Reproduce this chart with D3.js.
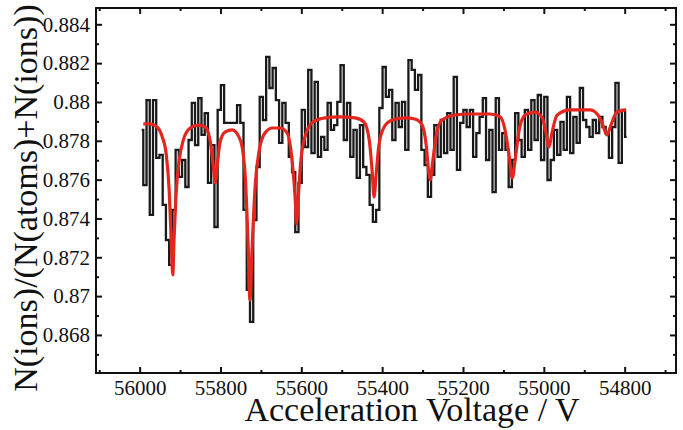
<!DOCTYPE html>
<html>
<head>
<meta charset="utf-8">
<script src="https://cdnjs.cloudflare.com/ajax/libs/d3/7.8.5/d3.min.js"></script>
<style>
body { margin: 0; background: #fff; }
svg text { font-family: "Liberation Serif", "Times New Roman", serif !important; fill: #111; }
.axis path { display: none; }
.axis line { stroke: #111; stroke-width: 2px; }
</style>
</head>
<body>
<div id="chart"></div>
<script>
// measured ratio, one bin every 8 V
var voltage = [
  55995, 55987, 55979, 55971, 55963, 55955, 55947, 55939, 55931, 55923,
  55915, 55907, 55899, 55891, 55883, 55875, 55867, 55859, 55851, 55843,
  55835, 55827, 55819, 55811, 55803, 55795, 55787, 55779, 55771, 55763,
  55755, 55747, 55739, 55731, 55723, 55715, 55707, 55699, 55691, 55683,
  55675, 55667, 55659, 55651, 55643, 55635, 55627, 55619, 55611, 55603,
  55595, 55587, 55579, 55571, 55563, 55555, 55547, 55539, 55531, 55523,
  55515, 55507, 55499, 55491, 55483, 55475, 55467, 55459, 55451, 55443,
  55435, 55427, 55419, 55411, 55403, 55395, 55387, 55379, 55371, 55363,
  55355, 55347, 55339, 55331, 55323, 55315, 55307, 55299, 55291, 55283,
  55275, 55267, 55259, 55251, 55243, 55235, 55227, 55219, 55211, 55203,
  55195, 55187, 55179, 55171, 55163, 55155, 55147, 55139, 55131, 55123,
  55115, 55107, 55099, 55091, 55083, 55075, 55067, 55059, 55051, 55043,
  55035, 55027, 55019, 55011, 55003, 54995, 54987, 54979, 54971, 54963,
  54955, 54947, 54939, 54931, 54923, 54915, 54907, 54899, 54891, 54883,
  54875, 54867, 54859, 54851, 54843, 54835, 54827, 54819, 54811, 54803,
  54795
];
var ratio = [
  0.87856, 0.87572, 0.88010, 0.87418, 0.88010, 0.87712, 0.87727, 0.87470, 0.87289, 0.87161,
  0.87444, 0.87753, 0.87614, 0.87701, 0.87562, 0.87804, 0.87995, 0.87778, 0.88020, 0.87830,
  0.87943, 0.87583, 0.87778, 0.87356, 0.87959, 0.88087, 0.87892, 0.87892, 0.87892, 0.87892,
  0.87984, 0.87892, 0.87444, 0.87032, 0.86867, 0.87392, 0.87665, 0.88026, 0.87907, 0.88232,
  0.88072, 0.88175, 0.88010, 0.87789, 0.87995, 0.87892, 0.87717, 0.87639, 0.87330, 0.87583,
  0.87959, 0.87768, 0.88165, 0.87737, 0.88103, 0.87717, 0.87820, 0.87753, 0.87995, 0.87856,
  0.87881, 0.88000, 0.88190, 0.87804, 0.87995, 0.87717, 0.87856, 0.87609, 0.87881, 0.87665,
  0.87624, 0.87470, 0.87382, 0.87444, 0.87969, 0.88180, 0.88026, 0.88062, 0.87804, 0.87995,
  0.87871, 0.88000, 0.87753, 0.88216, 0.88165, 0.88062, 0.88139, 0.87753, 0.87675, 0.87511,
  0.87624, 0.87881, 0.87717, 0.87907, 0.87737, 0.87943, 0.87753, 0.88129, 0.87650, 0.87892,
  0.87959, 0.87871, 0.87959, 0.87717, 0.87840, 0.87923, 0.88020, 0.87701, 0.87856, 0.87536,
  0.88020, 0.87753, 0.87840, 0.87753, 0.87562, 0.87701, 0.87943, 0.87804, 0.87717, 0.87959,
  0.87753, 0.88010, 0.87804, 0.88036, 0.87701, 0.88026, 0.87598, 0.87701, 0.87856, 0.87727,
  0.87897, 0.87753, 0.88026, 0.87737, 0.87923, 0.87789, 0.88072, 0.87907, 0.87871, 0.87820,
  0.87907, 0.87840, 0.87923, 0.87871, 0.87840, 0.87712, 0.87871, 0.88098, 0.87686, 0.87959,
  0.87820
];

// fitted curve (red)
var fitVoltage = [
  55991, 55974, 55957, 55944, 55934, 55927, 55922, 55918, 55915, 55910,
  55902, 55892, 55875, 55855, 55838, 55826, 55818, 55813, 55808, 55801,
  55789, 55771, 55751, 55739, 55732, 55727, 55722, 55714, 55704, 55690,
  55672, 55652, 55635, 55623, 55615, 55612, 55608, 55601, 55588, 55571,
  55541, 55504, 55467, 55445, 55432, 55425, 55420, 55415, 55408, 55395,
  55375, 55343, 55319, 55301, 55291, 55284, 55281, 55276, 55266, 55252,
  55220, 55183, 55133, 55108, 55096, 55086, 55078, 55071, 55061, 55046,
  55022, 55004, 54995, 54987, 54980, 54967, 54935, 54886, 54866, 54854,
  54844, 54834, 54819, 54797
];
var fitRatio = [
  0.87887, 0.87887, 0.87871, 0.87820, 0.87727, 0.87547, 0.87289, 0.87109, 0.87289, 0.87521,
  0.87701, 0.87804, 0.87866, 0.87881, 0.87871, 0.87804, 0.87675, 0.87583, 0.87675, 0.87794,
  0.87845, 0.87856, 0.87804, 0.87624, 0.87289, 0.86980, 0.87238, 0.87572, 0.87753, 0.87840,
  0.87866, 0.87866, 0.87840, 0.87701, 0.87495, 0.87372, 0.87495, 0.87701, 0.87840, 0.87897,
  0.87918, 0.87923, 0.87918, 0.87897, 0.87804, 0.87650, 0.87511, 0.87624, 0.87778, 0.87871,
  0.87907, 0.87918, 0.87912, 0.87881, 0.87778, 0.87624, 0.87598, 0.87675, 0.87830, 0.87907,
  0.87933, 0.87938, 0.87938, 0.87923, 0.87856, 0.87727, 0.87609, 0.87701, 0.87856, 0.87933,
  0.87948, 0.87918, 0.87845, 0.87768, 0.87840, 0.87933, 0.87959, 0.87959, 0.87933, 0.87881,
  0.87830, 0.87881, 0.87948, 0.87959
];

var xTicks = [56000, 55800, 55600, 55400, 55200, 55000, 54800];
var xMinor = [56100, 55900, 55700, 55500, 55300, 55100, 54900, 54700];
var yTicks = [0.868, 0.870, 0.872, 0.874, 0.876, 0.878, 0.880, 0.882, 0.884];
var yMinor = [0.867, 0.869, 0.871, 0.873, 0.875, 0.877, 0.879, 0.881, 0.883];

var serif = "'Liberation Serif', 'Times New Roman', serif";

var margin = {top: 8, right: 7, bottom: 57, left: 96},
    width = 683 - margin.left - margin.right,
    height = 430 - margin.top - margin.bottom;

var svg = d3.select("#chart").append("svg")
    .attr("width", 683)
    .attr("height", 430)
  .append("g")
    .attr("transform", "translate(" + margin.left + "," + margin.top + ")");

// voltage axis runs backwards
var x = d3.scaleLinear()
  .domain([56108, 54673])
  .range([0, width]);

var y = d3.scaleLinear()
  .domain([0.86604, 0.88484])
  .range([height, 0]);

var fmt = function(d){ return String(+d.toFixed(3)); };

function styleLabels(g){
  g.attr("font-family", serif);
  g.selectAll("text")
    .style("font-family", serif)
    .style("font-size", "21px");
}

// major ticks, all pointing inwards
svg.append("g").attr("class", "axis")
    .attr("transform", "translate(0," + height + ")")
    .call(d3.axisBottom(x).tickValues(xTicks).tickSizeInner(-6).tickSizeOuter(0).tickPadding(7).tickFormat(d3.format("d")))
    .call(styleLabels);

svg.append("g").attr("class", "axis")
    .call(d3.axisTop(x).tickValues(xTicks).tickSizeInner(-6).tickSizeOuter(0).tickFormat(""));

svg.append("g").attr("class", "axis")
    .call(d3.axisLeft(y).tickValues(yTicks).tickSizeInner(-6).tickSizeOuter(0).tickPadding(6).tickFormat(fmt))
    .call(styleLabels);

svg.append("g").attr("class", "axis")
    .attr("transform", "translate(" + width + ",0)")
    .call(d3.axisRight(y).tickValues(yTicks).tickSizeInner(-6).tickSizeOuter(0).tickFormat(""));

// minor ticks
svg.append("g").attr("class", "axis")
    .attr("transform", "translate(0," + height + ")")
    .call(d3.axisBottom(x).tickValues(xMinor).tickSizeInner(-3).tickSizeOuter(0).tickFormat(""));
svg.append("g").attr("class", "axis")
    .call(d3.axisTop(x).tickValues(xMinor).tickSizeInner(-3).tickSizeOuter(0).tickFormat(""));
svg.append("g").attr("class", "axis")
    .call(d3.axisLeft(y).tickValues(yMinor).tickSizeInner(-3).tickSizeOuter(0).tickFormat(""));
svg.append("g").attr("class", "axis")
    .attr("transform", "translate(" + width + ",0)")
    .call(d3.axisRight(y).tickValues(yMinor).tickSizeInner(-3).tickSizeOuter(0).tickFormat(""));

// data as a step line
var stepLine = d3.line()
    .x(function(d){ return x(d[0]); })
    .y(function(d){ return y(d[1]); })
    .curve(d3.curveStep);

svg.append("path")
    .datum(d3.zip(voltage, ratio))
    .attr("fill", "none")
    .attr("stroke", "#1a1a1a")
    .attr("stroke-width", 2.3)
    .attr("d", stepLine);

// fit
var fitLine = d3.line()
    .x(function(d){ return x(d[0]); })
    .y(function(d){ return y(d[1]); })
    .curve(d3.curveMonotoneX);

svg.append("path")
    .datum(d3.zip(fitVoltage, fitRatio))
    .attr("fill", "none")
    .attr("stroke", "#e5261e")
    .attr("stroke-width", 3.2)
    .attr("stroke-linejoin", "round")
    .attr("d", fitLine);

// frame
svg.append("rect")
    .attr("width", width)
    .attr("height", height)
    .attr("fill", "none")
    .attr("stroke", "#111")
    .attr("stroke-width", 2);

// axis titles
svg.append("text")
    .attr("x", 412 - margin.left)
    .attr("y", 421 - margin.top)
    .attr("text-anchor", "middle")
    .style("font-family", serif)
    .style("font-size", "34px")
    .text("Acceleration Voltage / V");

svg.append("text")
    .attr("transform", "translate(" + (37 - margin.left) + "," + (198 - margin.top) + ") rotate(-90)")
    .attr("text-anchor", "middle")
    .style("font-family", serif)
    .style("font-size", "34px")
    .text("N(ions)/(N(atoms)+N(ions))");
</script>
</body>
</html>
